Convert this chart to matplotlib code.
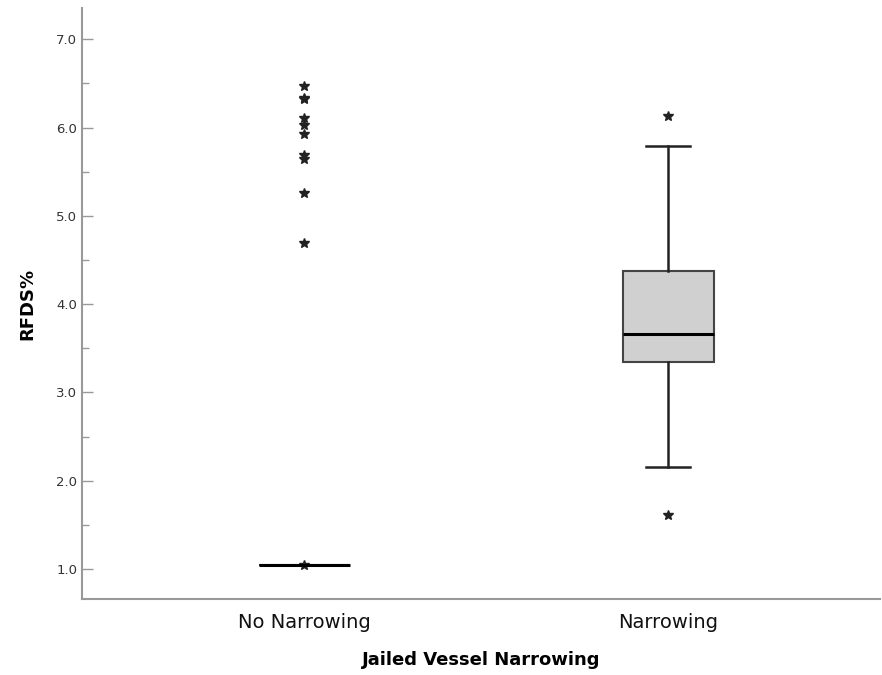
import numpy as np
import matplotlib
matplotlib.use('Agg')
import matplotlib.pyplot as plt

# Dados
grupos = ['No Narrowing', 'Narrowing']
mediana = [1.05, 3.66]
q1 = [1.05, 3.34]
q3 = [1.05, 4.37]
whisker_baixo = [1.05, 2.15]
whisker_alto = [1.05, 5.79]
outliers_no = [6.47, 6.33, 6.32, 6.11, 6.03, 5.93, 5.69, 5.64, 5.26, 4.69, 1.04]
outliers_nar = [6.13, 1.61]

stats = []
for i, g in enumerate(grupos):
    stats.append({
        'label': g,
        'med': mediana[i],
        'q1': q1[i],
        'q3': q3[i],
        'whislo': whisker_baixo[i],
        'whishi': whisker_alto[i],
        'fliers': [outliers_no, outliers_nar][i],
    })

fig = plt.figure(figsize=(8.82, 6.75), dpi=100)
ax = fig.add_axes([0.093, 0.1126, 0.905, 0.875])

ax.bxp(stats, positions=[0, 1], widths=0.25, patch_artist=True,
       boxprops=dict(facecolor='#d0d0d0', edgecolor='#444444', linewidth=1.5),
       medianprops=dict(color='black', linewidth=2.2),
       whiskerprops=dict(color='#222222', linewidth=1.8),
       capprops=dict(color='#222222', linewidth=1.8),
       capwidths=0.12,
       flierprops=dict(marker='*', markersize=7, markerfacecolor='#222222',
                       markeredgecolor='#222222', linestyle='none'))

ax.set_xlim(-0.61, 1.582)
ax.set_ylim(0.66, 7.35)
ax.set_yticks([1, 2, 3, 4, 5, 6, 7])
ax.set_yticks(np.arange(1.5, 7.0, 1.0), minor=True)
ax.set_yticklabels([f'{v:.1f}' for v in range(1, 8)], color='#333333', fontsize=9.5)
ax.tick_params(axis='y', which='major', direction='in', length=8, color='#999999', width=1)
ax.tick_params(axis='y', which='minor', direction='in', length=5, color='#999999', width=1)
ax.tick_params(axis='x', length=0, labelsize=14, pad=10, labelcolor='#111111')

for s in ['top', 'right']:
    ax.spines[s].set_visible(False)
for s in ['left', 'bottom']:
    ax.spines[s].set_color('#999999')
    ax.spines[s].set_linewidth(1.5)

ax.set_ylabel('RFDS%', fontsize=13, fontweight='bold', labelpad=14)
ax.set_xlabel('Jailed Vessel Narrowing', fontsize=13, fontweight='bold', labelpad=14)

plt.savefig('out.png', dpi=100)
